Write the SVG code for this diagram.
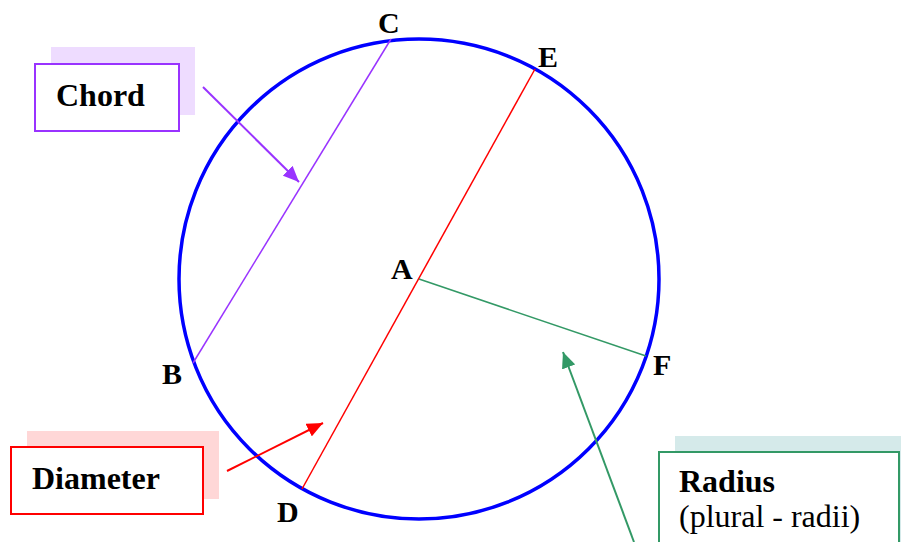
<svg xmlns="http://www.w3.org/2000/svg" width="901" height="542" viewBox="0 0 901 542">
<defs>
<style>
.lbl{font-family:"Liberation Serif","Times New Roman",serif;font-weight:bold;font-size:30px;fill:#000}
.btxt{font-family:"Liberation Serif","Times New Roman",serif;font-weight:bold;font-size:32px;fill:#000}
.ntxt{font-family:"Liberation Serif","Times New Roman",serif;font-size:32px;fill:#000}
.box{fill:#fff;stroke-width:2}
</style>
<marker id="ap" markerUnits="userSpaceOnUse" markerWidth="18" markerHeight="14" refX="16" refY="7" orient="auto"><path d="M0,0 L16,7 L0,14 Z" fill="#9933ff"/></marker>
<marker id="ar" markerUnits="userSpaceOnUse" markerWidth="18" markerHeight="14" refX="16" refY="7" orient="auto"><path d="M0,0 L16,7 L0,14 Z" fill="#ff0000"/></marker>
<marker id="ag" markerUnits="userSpaceOnUse" markerWidth="18" markerHeight="14" refX="16" refY="7" orient="auto"><path d="M0,0 L16,7 L0,14 Z" fill="#339966"/></marker>
</defs>
<rect width="901" height="542" fill="#fff"/>
<g id="circle">
<circle cx="419" cy="279" r="240" fill="none" stroke="#0000ff" stroke-width="3.5"/>
</g>
<g id="segments">
<line x1="391" y1="39" x2="193" y2="363" stroke="#9933ff" stroke-width="1.5"/>
<line x1="535" y1="69" x2="302" y2="489" stroke="#ff0000" stroke-width="1.5"/>
<line x1="419" y1="279" x2="646" y2="356" stroke="#339966" stroke-width="1.5"/>
</g>
<g id="points">
<text class="lbl" x="378" y="33">C</text>
<text class="lbl" x="538" y="67">E</text>
<text class="lbl" x="391" y="279">A</text>
<text class="lbl" x="162" y="384">B</text>
<text class="lbl" x="277" y="522">D</text>
<text class="lbl" x="653" y="375">F</text>
</g>
<g id="chord">
<rect x="51" y="47" width="144" height="68" fill="#eedcff"/>
<rect class="box" x="35" y="64" width="144" height="67" stroke="#9933ff"/>
<text class="btxt" x="56" y="106">Chord</text>
</g>
<g id="diameter">
<rect x="27" y="431" width="192" height="68" fill="#ffd7d7"/>
<rect class="box" x="11" y="447" width="192" height="67" stroke="#ff0000"/>
<text class="btxt" x="32" y="489">Diameter</text>
</g>
<g id="radius">
<rect x="675" y="436" width="226" height="106" fill="#d5eaea"/>
<rect class="box" x="659" y="452" width="240" height="92" stroke="#339966"/>
<text class="btxt" x="679" y="492">Radius</text>
<text class="ntxt" x="679" y="527">(plural - radii)</text>
</g>
<g id="connectors">
<line x1="203" y1="87" x2="299" y2="182" stroke="#9933ff" stroke-width="2" marker-end="url(#ap)"/>
<line x1="227" y1="471" x2="323" y2="423" stroke="#ff0000" stroke-width="2" marker-end="url(#ar)"/>
<line x1="634" y1="542" x2="563" y2="352" stroke="#339966" stroke-width="2" marker-end="url(#ag)"/>
</g>
</svg>
